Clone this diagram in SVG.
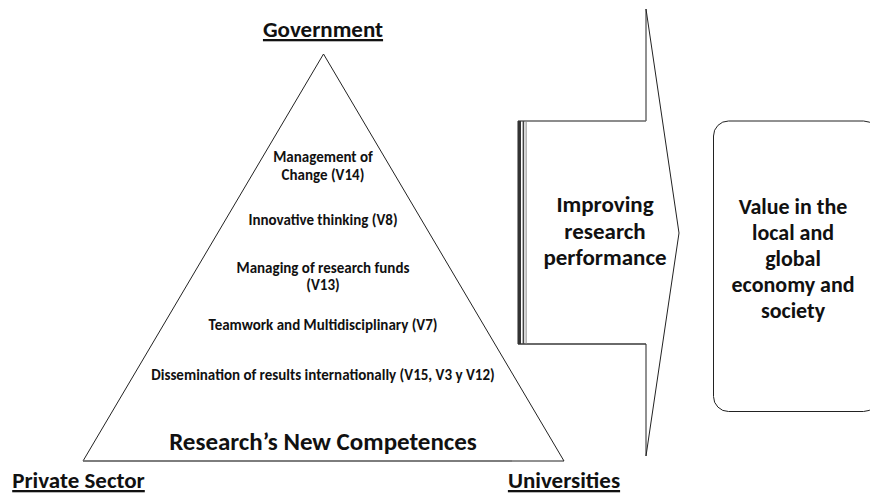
<svg xmlns="http://www.w3.org/2000/svg" width="870" height="499" viewBox="0 0 870 499">
  <style>
    text { font-family: Carlito, Lato, "Liberation Sans", sans-serif; font-weight: bold; fill: #111; text-anchor: middle; }
    .actor { font-size: 23px; text-decoration: underline; }
    .item { font-size: 15px; }
    .title { font-size: 25px; }
    .big { font-size: 23px; }
    .box { font-size: 22px; }
    .edge { fill: #fff; stroke: #222; stroke-width: 1; }
  </style>
  <rect width="870" height="499" fill="#fff"/>

  <!-- actor labels -->
  <g id="government"><text class="actor" x="323" y="37">Government</text></g>
  <g id="private-sector"><text class="actor" x="78.5" y="488">Private Sector</text></g>
  <g id="universities"><text class="actor" x="564" y="488">Universities</text></g>

  <!-- competences pyramid -->
  <g id="pyramid">
    <polygon class="edge" points="323.5,54 83,461 564,461"/>
    <line x1="83" y1="461" x2="512" y2="461" stroke="#777" stroke-width="1.6"/>
    <text class="item" x="323" y="162">Management of</text>
    <text class="item" x="323" y="180">Change (V14)</text>
    <text class="item" x="323" y="225">Innovative thinking (V8)</text>
    <text class="item" x="323" y="273">Managing of research funds</text>
    <text class="item" x="323" y="290">(V13)</text>
    <text class="item" x="323" y="330">Teamwork and Multidisciplinary (V7)</text>
    <text class="item" x="323" y="380">Dissemination of results internationally (V15, V3 y V12)</text>
    <text class="title" x="323" y="450">Research’s New Competences</text>
  </g>

  <!-- block arrow -->
  <g id="improving">
    <path class="edge" d="M518,121 H646 V9 L679,233 L646,456 V344 H518 Z"/>
    <line x1="518" y1="121" x2="646" y2="121" stroke="#888" stroke-width="1.2"/>
    <line x1="518" y1="344" x2="646" y2="344" stroke="#444" stroke-width="1.2"/>
    <rect x="518" y="121" width="3" height="223" fill="#333"/>
    <rect x="522.6" y="121" width="1.6" height="223" fill="#444"/>
    <rect x="525.6" y="121" width="1" height="223" fill="#888"/>
    <text class="big" x="605" y="212">Improving</text>
    <text class="big" x="605" y="239">research</text>
    <text class="big" x="605" y="265">performance</text>
  </g>

  <!-- outcome box -->
  <g id="value">
    <rect class="edge" x="713.5" y="121" width="165" height="290.5" rx="15" ry="15"/>
    <text class="box" x="793" y="214">Value in the</text>
    <text class="box" x="793" y="240">local and</text>
    <text class="box" x="793" y="266">global</text>
    <text class="box" x="793" y="292">economy and</text>
    <text class="box" x="793" y="318">society</text>
  </g>
</svg>
